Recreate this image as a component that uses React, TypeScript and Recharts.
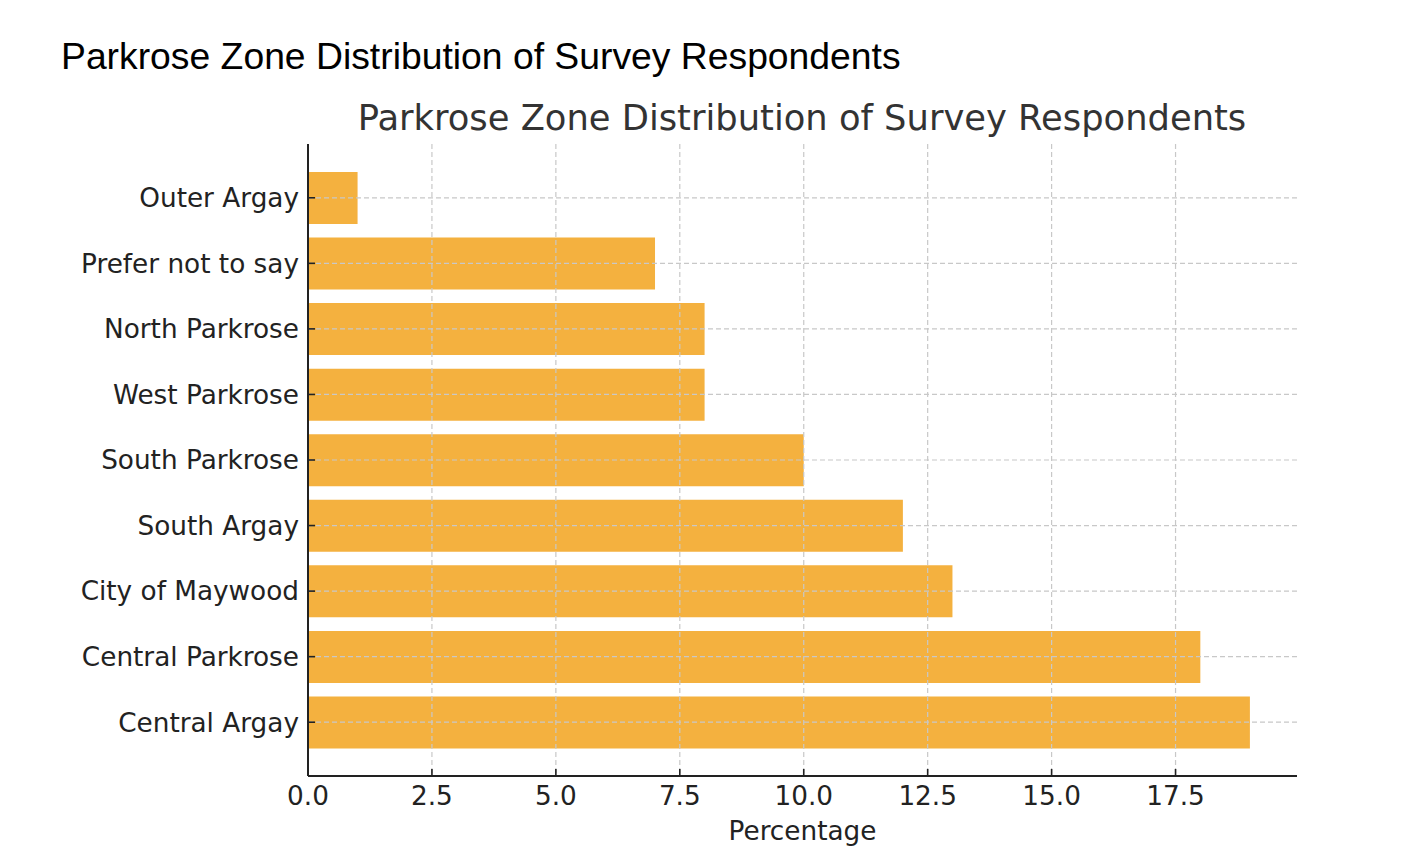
import React from 'react';
import { BarChart, Bar, XAxis, YAxis, CartesianGrid } from 'recharts';

const zones = [
  'Outer Argay',
  'Prefer not to say',
  'North Parkrose',
  'West Parkrose',
  'South Parkrose',
  'South Argay',
  'City of Maywood',
  'Central Parkrose',
  'Central Argay',
];
const percentages = [1, 7, 8, 8, 10, 12, 13, 18, 19];
const xTicks = [0, 2.5, 5, 7.5, 10, 12.5, 15, 17.5];

const data = zones.map((name, i) => ({ name, value: percentages[i] }));

const TITLE = 'Parkrose Zone Distribution of Survey Respondents';
const tickFont = { fill: '#222222', fontSize: 26.3, fontFamily: 'DejaVu Sans' };

export default function App() {
  return (
    <div style={{ position: 'relative', width: 1400, height: 858 }}>
      <BarChart
        width={1400}
        height={858}
        data={data}
        layout="vertical"
        margin={{ top: 136, right: 111, bottom: 18, left: 0 }}
      >
        <Bar dataKey="value" fill="#F4B13F" barSize={52} isAnimationActive={false} />
        <CartesianGrid
          strokeDasharray="5 3"
          stroke="#c8c8c8"
          strokeWidth={1.2}
          syncWithTicks
          zIndex={1000}
        />
        <XAxis
          type="number"
          domain={[0, 19.95]}
          ticks={xTicks}
          interval={0}
          allowDataOverflow
          tickFormatter={(v: number) => v.toFixed(1)}
          tick={tickFont}
          tickSize={-7}
          tickMargin={17}
          tickLine={{ stroke: '#222222', strokeWidth: 1.6 }}
          axisLine={{ stroke: '#222222', strokeWidth: 2 }}
          height={72}
          zIndex={1100}
          label={{
            value: 'Percentage',
            position: 'insideBottom',
            offset: 8,
            fill: '#222222',
            fontSize: 26.3,
            fontFamily: 'DejaVu Sans',
          }}
        />
        <YAxis
          type="category"
          dataKey="name"
          width={300}
          interval={0}
          padding={{ top: 21, bottom: 21 }}
          tick={tickFont}
          tickSize={-7}
          tickMargin={16}
          tickLine={{ stroke: '#222222', strokeWidth: 1.6 }}
          axisLine={{ stroke: '#222222', strokeWidth: 2 }}
          zIndex={1100}
        />
      </BarChart>
      <svg
        width={1400}
        height={160}
        style={{ position: 'absolute', left: 0, top: 0, pointerEvents: 'none' }}
      >
        <text x={53} y={61} fontFamily="Liberation Sans" fontSize={37.3} fill="#000000">
          {TITLE}
        </text>
        <text x={794} y={122} textAnchor="middle" fontFamily="DejaVu Sans" fontSize={35.3} fill="#333333">
          {TITLE}
        </text>
      </svg>
    </div>
  );
}
